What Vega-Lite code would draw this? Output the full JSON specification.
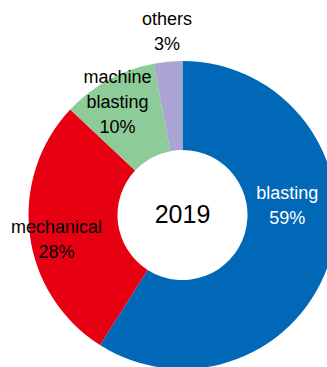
{
  "$schema": "https://vega.github.io/schema/vega-lite/v6.json",
  "autosize": "none",
  "width": 289,
  "height": 304,
  "padding": {"left": 38, "top": 63, "right": 0, "bottom": 0},
  "background": "white",
  "config": {"view": {"stroke": null}, "font": "Liberation Sans"},
  "data": {
    "values": [
      {"k": 1, "cat": "blasting", "value": 59, "label": "blasting\n59%"},
      {"k": 2, "cat": "mechanical", "value": 28, "label": "mechanical\n28%"},
      {"k": 3, "cat": "machine blasting", "value": 10, "label": "machine\nblasting\n10%"},
      {"k": 4, "cat": "others", "value": 3, "label": "others\n3%"}
    ]
  },
  "encoding": {
    "theta": {"field": "value", "type": "quantitative", "stack": true},
    "order": {"field": "k", "type": "quantitative"}
  },
  "layer": [
    {
      "mark": {"type": "arc", "radius": 154, "innerRadius": 65},
      "encoding": {
        "color": {
          "field": "cat",
          "type": "nominal",
          "scale": {
            "domain": ["blasting", "mechanical", "machine blasting", "others"],
            "range": ["#0068B7", "#E60012", "#8DCB98", "#AAA4D2"]
          },
          "legend": null
        }
      }
    },
    {
      "mark": {"type": "text", "radius": 106, "dx": 3, "dy": -51, "lineBreak": "\n", "fontSize": 18, "lineHeight": 25, "color": "white"},
      "encoding": {"text": {"condition": {"test": "datum.cat === 'blasting'", "field": "label"}, "value": ""}}
    },
    {
      "mark": {"type": "text", "radius": 127, "dy": -3, "lineBreak": "\n", "fontSize": 18, "lineHeight": 25, "color": "black"},
      "encoding": {"text": {"condition": {"test": "datum.cat === 'mechanical'", "field": "label"}, "value": ""}}
    },
    {
      "mark": {"type": "text", "radius": 133, "dx": -1, "dy": -20, "lineBreak": "\n", "fontSize": 18, "lineHeight": 25, "color": "black"},
      "encoding": {"text": {"condition": {"test": "datum.cat === 'machine blasting'", "field": "label"}, "value": ""}}
    },
    {
      "mark": {"type": "text", "radius": 186, "dx": 2, "dy": -10, "lineBreak": "\n", "fontSize": 18, "lineHeight": 25, "color": "black"},
      "encoding": {"text": {"condition": {"test": "datum.cat === 'others'", "field": "label"}, "value": ""}}
    },
    {
      "data": {"values": [{"year": "2019"}]},
      "mark": {"type": "text", "fontSize": 25, "color": "black"},
      "encoding": {"text": {"field": "year"}, "theta": null, "order": null}
    }
  ]
}
